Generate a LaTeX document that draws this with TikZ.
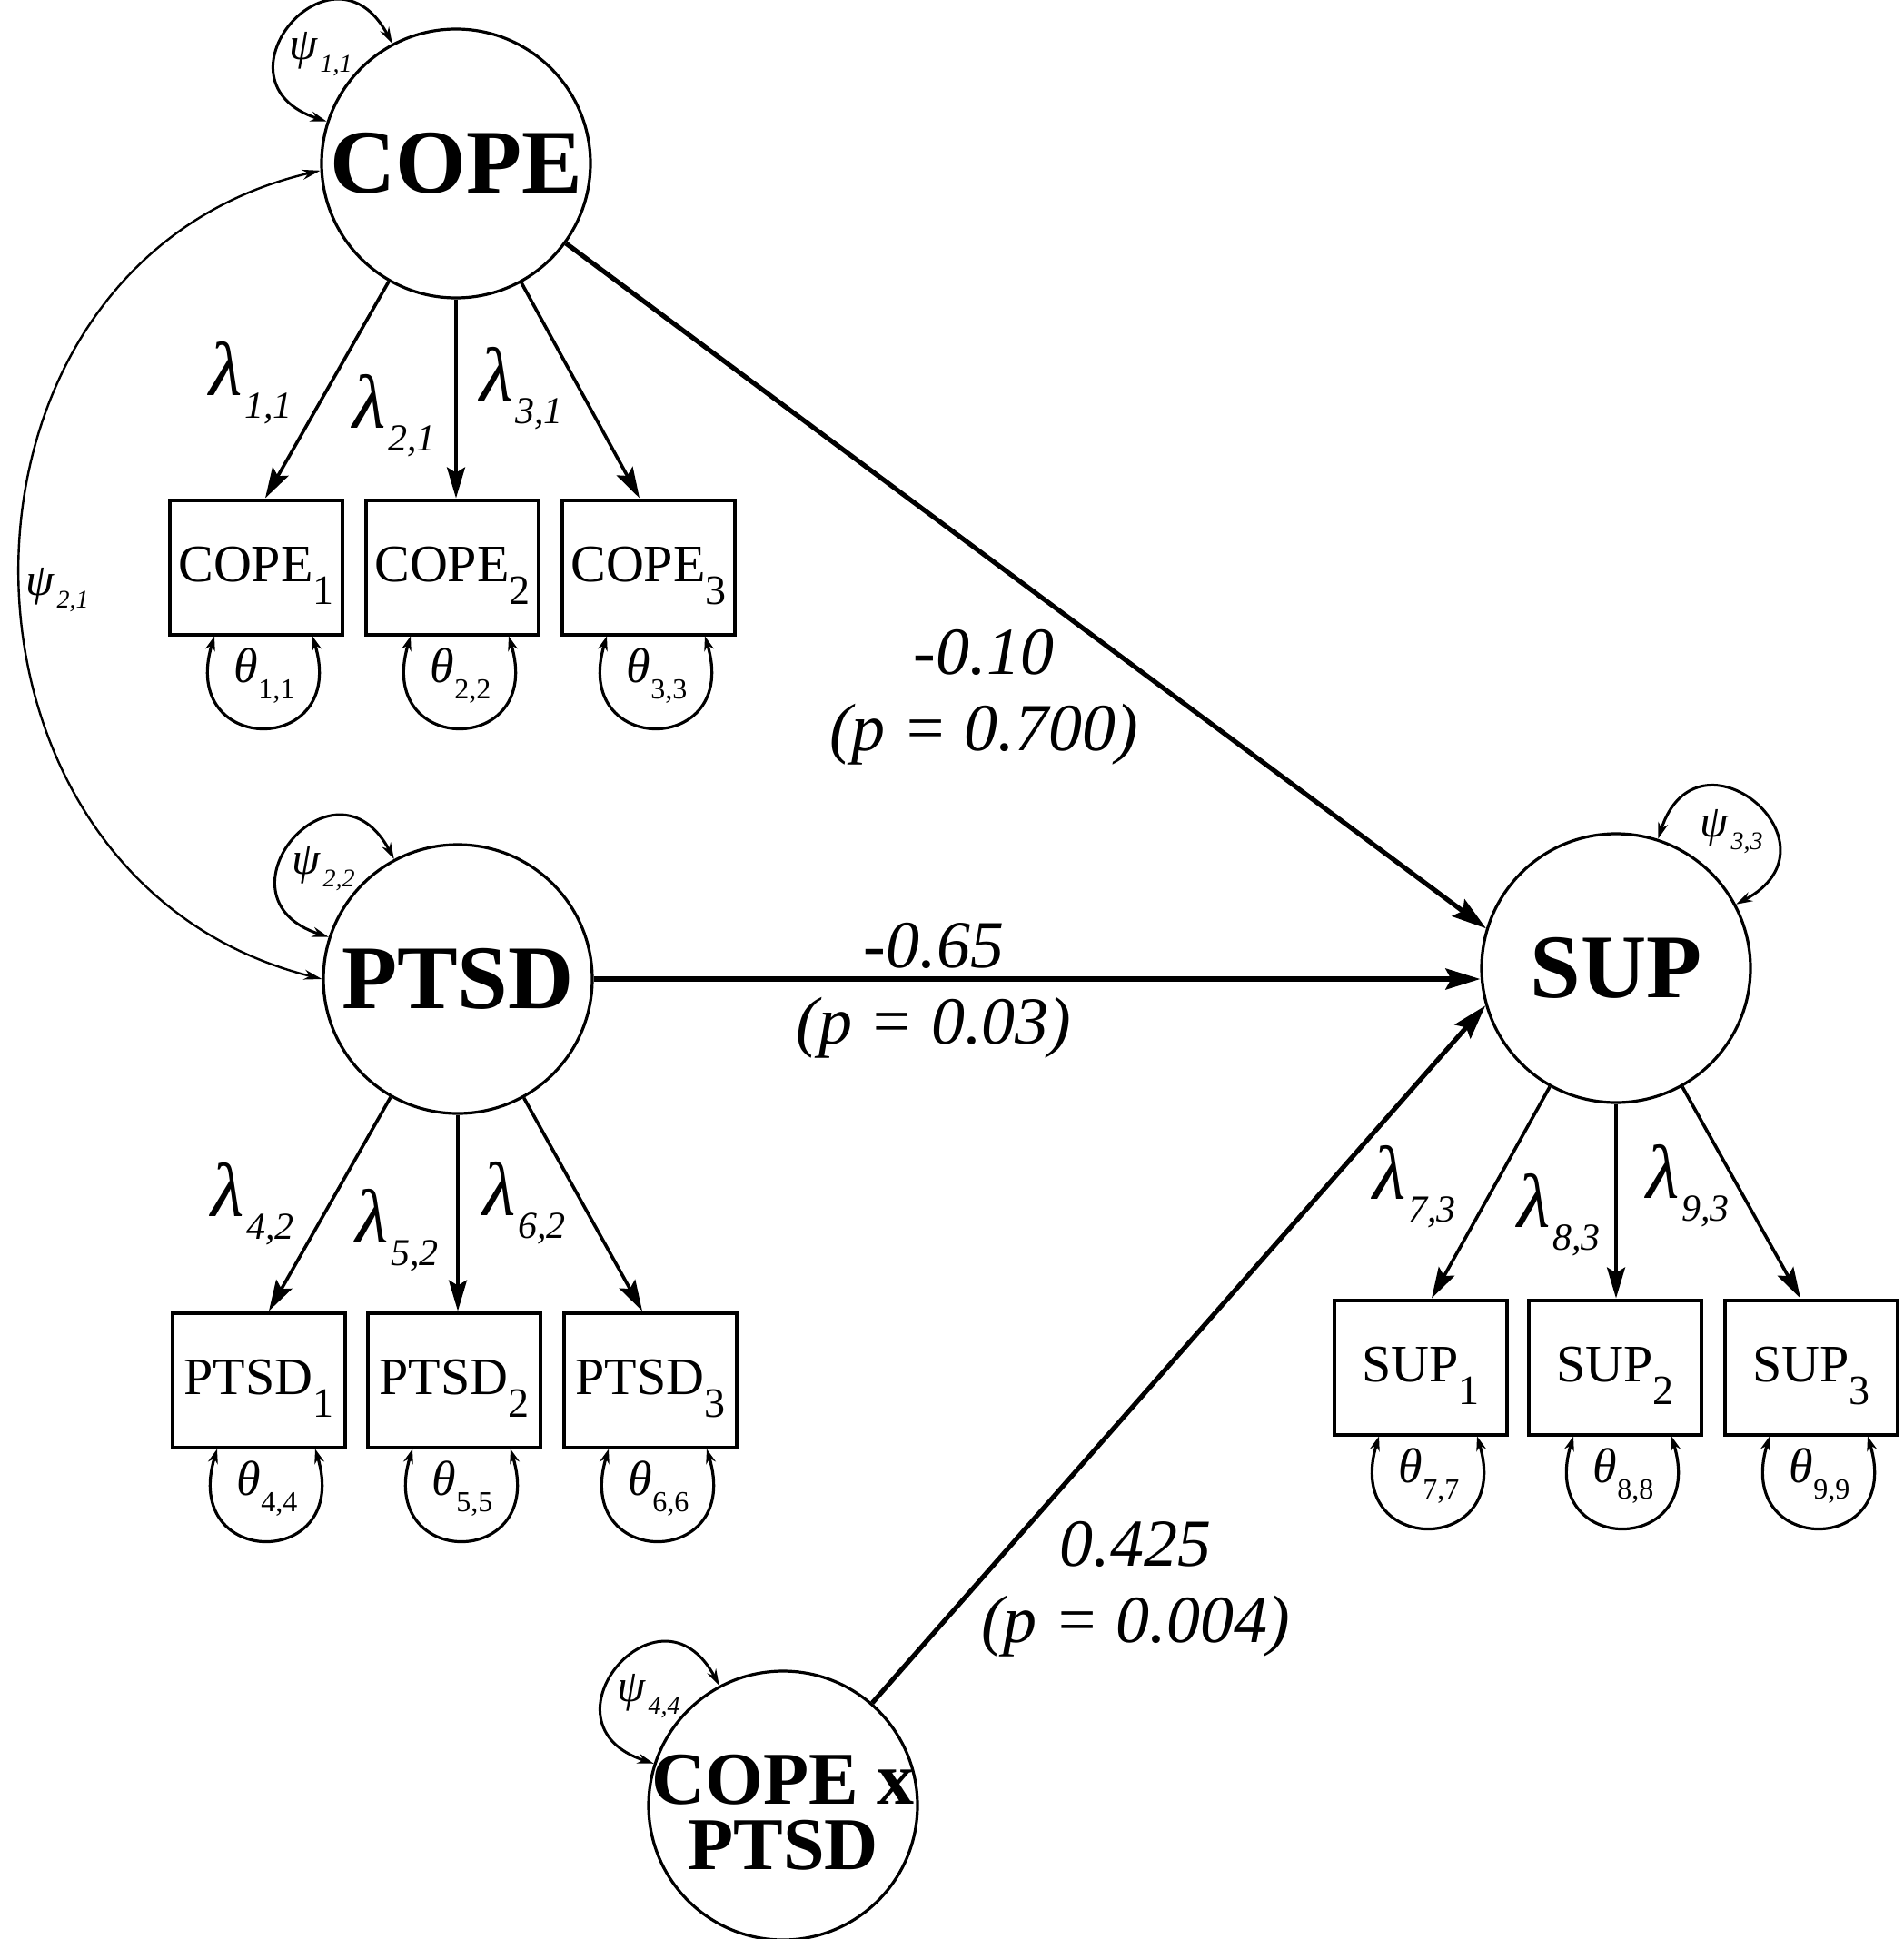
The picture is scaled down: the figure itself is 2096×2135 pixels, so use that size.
\documentclass[tikz,border=0pt]{standalone}
\usepackage{fontspec}
\setmainfont{Liberation Serif}
\usetikzlibrary{arrows.meta,calc}
\newcommand{\boxtxt}[2]{#1\raisebox{-12.5pt}{\fontsize{23}{23}\selectfont #2}}
\newcommand{\lamlbl}[1]{{\fontsize{42}{42}\selectfont\itshape λ}\kern1.5pt\raisebox{-12.5pt}{\fontsize{21}{21}\selectfont\itshape #1}}
\newcommand{\psilbl}[1]{{\fontsize{25}{25}\selectfont\itshape ψ}\kern1.5pt\raisebox{-7pt}{\fontsize{14}{14}\selectfont\itshape #1}}
\newcommand{\thlbl}[1]{{\fontsize{27}{27}\selectfont\itshape θ}\raisebox{-9pt}{\fontsize{16}{16}\selectfont #1}}
\begin{document}
\begin{tikzpicture}[x=0.5pt,y=0.5pt,
  latent/.style={circle,draw,line width=1.6pt,minimum size=148pt,inner sep=0pt,font=\fontsize{50}{50}\selectfont\bfseries},
  obs/.style={rectangle,draw,line width=2pt,minimum width=95pt,minimum height=74pt,inner sep=0pt,text height=22pt,text depth=6.5pt,font=\fontsize{29}{29}\selectfont},
  load/.style={line width=1.8pt,-{Stealth[length=17pt,width=10pt,inset=3pt]}},
  reg/.style={line width=2.6pt,-{Stealth[length=19pt,width=11.5pt,inset=3pt]}},
  psiloop/.style={line width=1.5pt,{Stealth[length=9pt,width=5.5pt]}-{Stealth[length=9pt,width=5.5pt]}},
  thloop/.style={line width=1.6pt,{Stealth[length=8pt,width=5.5pt]}-{Stealth[length=8pt,width=5.5pt]}},
  cov/.style={line width=1.2pt,{Stealth[length=10pt,width=5.5pt]}-{Stealth[length=10pt,width=5.5pt]}},
  lbl/.style={inner sep=0pt},
  plbl/.style={inner sep=0pt,align=center,font=\fontsize{37}{42}\selectfont\itshape}
]
\useasboundingbox (0,0) rectangle (2096,-2135);

% latent variables
\node[latent] (cope) at (502,-180) {COPE};
\node[latent] (ptsd) at (504,-1078) {PTSD};
\node[latent] (sup) at (1779,-1066) {SUP};
\node[latent] (cxp) at (862,-1988) {};
\node[inner sep=0pt,align=center,font=\fontsize{41}{36}\selectfont\bfseries] (cxptxt) at (862,-1996) {COPE x\\PTSD};

% indicators
\node[obs] (c1) at (282,-624.5) {\boxtxt{COPE}{1}};
\node[obs] (c2) at (498,-624.5) {\boxtxt{COPE}{2}};
\node[obs] (c3) at (714,-624.5) {\boxtxt{COPE}{3}};
\node[obs] (p1) at (285,-1519.5) {\boxtxt{PTSD}{1}};
\node[obs] (p2) at (500,-1519.5) {\boxtxt{PTSD}{2}};
\node[obs] (p3) at (716,-1519.5) {\boxtxt{PTSD}{3}};
\node[obs] (s1) at (1564,-1505.5) {\boxtxt{SUP}{1}};
\node[obs] (s2) at (1778,-1505.5) {\boxtxt{SUP}{2}};
\node[obs] (s3) at (1994,-1505.5) {\boxtxt{SUP}{3}};

% loadings
\draw[load] (cope) -- ($(c1.north)+(10,0)$);
\draw[load] (cope.south) -- (cope.south |- c2.north);
\draw[load] (cope) -- ($(c3.north)+(-10,0)$);
\draw[load] (ptsd) -- ($(p1.north)+(11,0)$);
\draw[load] (ptsd.south) -- (ptsd.south |- p2.north);
\draw[load] (ptsd) -- ($(p3.north)+(-9,0)$);
\draw[load] (sup) -- ($(s1.north)+(12,0)$);
\draw[load] (sup.south) -- (sup.south |- s2.north);
\draw[load] (sup) -- ($(s3.north)+(-12,0)$);

% regressions
\draw[reg] (cope.-36) -- (sup.163);
\draw[reg] (ptsd.east) -- (ptsd.east -| sup.west);
\draw[reg] (cxp.49) -- (sup.196);

% covariance
\draw[cov] (cope.183) .. controls +(193:453) and +(166:453) .. (ptsd.180);

% variances of latents
\draw[psiloop] (cope.118) .. controls +(118:140) and +(162:140) .. (cope.162);
\draw[psiloop] (ptsd.118) .. controls +(118:140) and +(162:140) .. (ptsd.162);
\draw[psiloop] (cxp.118) .. controls +(118:140) and +(162:140) .. (cxp.162);
\draw[psiloop] (sup.72) .. controls +(72:140) and +(28:140) .. (sup.28);

% residual loops
\foreach \b in {c1,c2,c3,p1,p2,p3,s1,s2,s3}{
  \draw[thloop] ($(\b.south)+(-46,0)$) .. controls +(-40,-133) and +(40,-133) .. ($(\b.south)+(62,0)$);
}

% labels
\node[lbl] (psi11) at (353,-60) {\psilbl{1,1}};
\node[lbl] (psi22) at (356,-957) {\psilbl{2,2}};
\node[lbl] (psi44) at (714,-1868) {\psilbl{4,4}};
\node[lbl] (psi33) at (1906,-916) {\psilbl{3,3}};
\node[lbl] (psi21) at (63,-650) {\psilbl{2,1}};

\node[lbl] (lam11) at (276,-422) {\lamlbl{1,1}};
\node[lbl] (lam21) at (434,-458) {\lamlbl{2,1}};
\node[lbl] (lam31) at (574,-428) {\lamlbl{3,1}};
\node[lbl] (lam42) at (278,-1326) {\lamlbl{4,2}};
\node[lbl] (lam52) at (437,-1355) {\lamlbl{5,2}};
\node[lbl] (lam62) at (577,-1325) {\lamlbl{6,2}};
\node[lbl] (lam73) at (1557,-1307) {\lamlbl{7,3}};
\node[lbl] (lam83) at (1716,-1338) {\lamlbl{8,3}};
\node[lbl] (lam93) at (1858,-1306) {\lamlbl{9,3}};

\node[lbl] (th11) at ($(c1.south)+(9,-44)$) {\thlbl{1,1}};
\node[lbl] (th22) at ($(c2.south)+(9,-44)$) {\thlbl{2,2}};
\node[lbl] (th33) at ($(c3.south)+(9,-44)$) {\thlbl{3,3}};
\node[lbl] (th44) at ($(p1.south)+(9,-44)$) {\thlbl{4,4}};
\node[lbl] (th55) at ($(p2.south)+(9,-44)$) {\thlbl{5,5}};
\node[lbl] (th66) at ($(p3.south)+(9,-44)$) {\thlbl{6,6}};
\node[lbl] (th77) at ($(s1.south)+(9,-44)$) {\thlbl{7,7}};
\node[lbl] (th88) at ($(s2.south)+(9,-44)$) {\thlbl{8,8}};
\node[lbl] (th99) at ($(s3.south)+(9,-44)$) {\thlbl{9,9}};

\node[plbl] (est1) at (1083,-768) {-0.10\\(p = 0.700)};
\node[plbl] (est2) at (1028,-1091) {-0.65\\(p = 0.03)};
\node[plbl] (est3) at (1250,-1750) {0.425\\(p = 0.004)};
\end{tikzpicture}
\end{document}
